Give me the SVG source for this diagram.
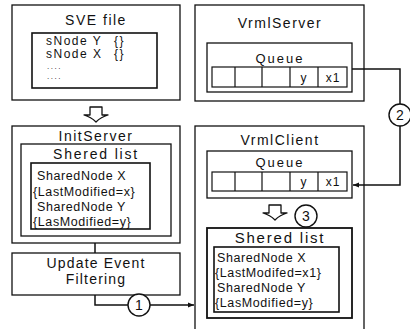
<svg xmlns="http://www.w3.org/2000/svg" width="410" height="329" viewBox="0 0 410 329">
  <defs>
    <marker id="arrow" viewBox="0 0 10 10" refX="10" refY="5" markerWidth="6" markerHeight="6" orient="auto" markerUnits="userSpaceOnUse">
      <path d="M0 1 L10 5 L0 9 Z" fill="#111"/>
    </marker>
    <style>
      .box { fill: #fff; stroke: #111; stroke-width: 1.3; }
      .inner { fill: #fff; stroke: #111; stroke-width: 1.6; }
      .cell { fill: none; stroke: #111; stroke-width: 1.2; }
      .title { font-family: "Liberation Sans", Arial, sans-serif; font-size: 14px; letter-spacing: 1.5px; fill: #111; text-anchor: middle; }
      .sub { font-family: "Liberation Sans", Arial, sans-serif; font-size: 13px; letter-spacing: 2px; fill: #111; text-anchor: middle; }
      .txt { font-family: "Liberation Sans", Arial, sans-serif; font-size: 12.5px; letter-spacing: 0.6px; fill: #111; }
      .node { font-family: "Liberation Sans", Arial, sans-serif; font-size: 12px; letter-spacing: 1.5px; fill: #111; }
      .dots { font-family: "Liberation Sans", Arial, sans-serif; font-size: 8px; letter-spacing: 1.5px; fill: #111; }
      .ctext { font-family: "Liberation Sans", Arial, sans-serif; font-size: 12px; letter-spacing: 0.8px; fill: #111; text-anchor: middle; }
      .wire { fill: none; stroke: #111; stroke-width: 1.5; }
      .badge { fill: #fff; stroke: #111; stroke-width: 1.4; }
      .num { font-family: "Liberation Sans", Arial, sans-serif; font-size: 14px; fill: #111; text-anchor: middle; }
      .hollow { fill: #fff; stroke: #111; stroke-width: 1.3; stroke-linejoin: round; }
    </style>
  </defs>
  <rect width="410" height="329" fill="#fff"/>

  <!-- source scene file -->
  <g id="sve-file">
    <rect class="box" x="12" y="5" width="168" height="95"/>
    <text class="title" x="96" y="25">SVE file</text>
    <rect class="inner" x="32" y="33" width="125" height="55"/>
    <text class="node" x="46" y="44.5">sNode Y <tspan x="114">{}</tspan></text>
    <text class="node" x="46" y="58">sNode X <tspan x="114">{}</tspan></text>
    <text class="dots" x="47" y="69">....</text>
    <text class="dots" x="47" y="79">....</text>
  </g>

  <!-- hollow down arrow: file loaded into the server -->
  <g id="load-arrow">
    <path class="hollow" d="M90 107 H102 V115 H108 Q101 117 96 122 Q91 117 84 115 H90 Z"/>
  </g>

  <!-- server start-up with shared list -->
  <g id="init-server">
    <rect class="box" x="12" y="126" width="168" height="117"/>
    <text class="title" x="96" y="141">InitServer</text>
    <rect class="box" x="21" y="144" width="150" height="92"/>
    <text class="title" x="96" y="159" style="letter-spacing:1.8px">Shered list</text>
    <rect class="inner" x="31" y="163" width="119" height="66"/>
    <text class="txt" x="37" y="180">SharedNode X</text>
    <text class="txt" x="33" y="196">{LastModified=x}</text>
    <text class="txt" x="37" y="211">SharedNode Y</text>
    <text class="txt" x="33" y="226">{LasModified=y}</text>
  </g>

  <!-- update filter -->
  <g id="update-filter">
    <rect class="box" x="12" y="253" width="168" height="42"/>
    <text class="title" x="96" y="268" style="letter-spacing:1.2px">Update Event</text>
    <text class="title" x="96" y="284" style="letter-spacing:1.2px">Filtering</text>
  </g>

  <!-- VRML server with its event queue -->
  <g id="vrml-server">
    <rect class="box" x="195" y="5" width="169" height="96"/>
    <text class="title" x="280" y="28">VrmlServer</text>
    <rect class="box" x="207" y="43" width="145" height="49"/>
    <text class="sub" x="280" y="63">Queue</text>
    <rect class="cell" x="212" y="67" width="135" height="20"/>
    <path class="cell" d="M235 67 V87 M262 67 V87 M290 67 V87 M318 67 V87"/>
    <text class="ctext" x="304" y="82">y</text>
    <text class="ctext" x="333" y="82">x1</text>
  </g>

  <!-- VRML client: queue and local shared list -->
  <g id="vrml-client">
    <rect class="box" x="195" y="126" width="169" height="215"/>
    <text class="title" x="280" y="145">VrmlClient</text>
    <rect class="box" x="207" y="151" width="145" height="47"/>
    <text class="sub" x="280" y="167">Queue</text>
    <rect class="cell" x="212" y="172" width="135" height="19"/>
    <path class="cell" d="M235 172 V191 M262 172 V191 M290 172 V191 M318 172 V191"/>
    <text class="ctext" x="304" y="186">y</text>
    <text class="ctext" x="333" y="186">x1</text>
    <path class="hollow" d="M269 205 H281 V213 H287 Q280 215 275 220 Q270 215 263 213 H269 Z"/>
    <rect class="box" x="207" y="228" width="145" height="90" style="stroke-width:1.8"/>
    <text class="title" x="280" y="243" style="font-size:15px;letter-spacing:1.8px">Shered list</text>
    <rect class="inner" x="214" y="247" width="125" height="65"/>
    <text class="txt" x="217" y="262">SharedNode X</text>
    <text class="txt" x="215" y="277">{LastModifed=x1}</text>
    <text class="txt" x="217" y="292">SharedNode Y</text>
    <text class="txt" x="215" y="307">{LasModified=y}</text>
  </g>

  <!-- connectors -->
  <g id="connectors">
    <line class="wire" x1="95" y1="243" x2="95" y2="253"/>
    <path class="wire" d="M95 295 V305 H194" marker-end="url(#arrow)"/>
    <path class="wire" d="M352 69 H400 V185 H353" marker-end="url(#arrow)"/>
    <g id="step-1">
      <circle class="badge" cx="139" cy="305" r="11"/>
      <text class="num" x="139" y="310">1</text>
    </g>
    <g id="step-2">
      <circle class="badge" cx="400" cy="115" r="11"/>
      <text class="num" x="400" y="120">2</text>
    </g>
    <g id="step-3">
      <circle class="badge" cx="306" cy="216" r="11"/>
      <text class="num" x="306" y="221">3</text>
    </g>
  </g>
</svg>
